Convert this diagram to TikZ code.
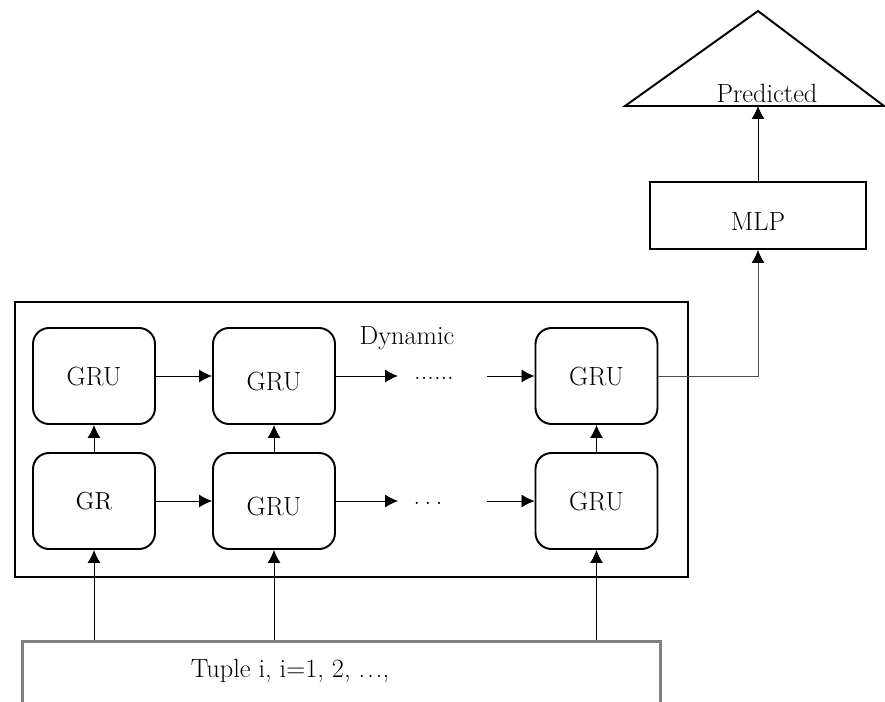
\documentclass[tikz,border=0pt]{standalone}
\usepackage{tikz}
\usetikzlibrary{arrows.meta,positioning}
\tikzstyle{gru}=[draw, rounded corners=0.32cm,% rounded cell
line width=1.1pt, minimum width=2.44cm, minimum height=1.92cm, inner sep=0pt, font=\fontsize{15}{17}\selectfont]
\tikzstyle{lowtext}=[text height=17pt, text depth=0pt]
\tikzstyle{plainbox}=[draw, line width=1.1pt, inner sep=0pt, font=\fontsize{15}{17}\selectfont]
\tikzstyle{txt}=[inner sep=0pt, font=\fontsize{15}{17}\selectfont]
\tikzstyle{dgraph}=[-{Latex[length=0.26cm,width=0.26cm,color=black]}, line width=0.5pt]
\newcommand{\spdots}[1]{.\kern#1.\kern#1.}

\begin{document}
\begin{tikzpicture}[x=0.02cm, y=-0.02cm]
\useasboundingbox (0,0) rectangle (885,702);
\clip (0,0) rectangle (885,702);

\node[plainbox, line width=1.3pt, minimum width=13.46cm, minimum height=5.5cm] (dyn) at (351.5,439.5) {};
\node[txt] (dynlbl) at (407,338) {Dynamic};

\node[gru] (g11) at (94,376) {GRU};
\node[gru, lowtext] (g12) at (274,376) {GRU};
\node[gru] (g13) at (596.5,376) {GRU};
\node[gru, font=\fontsize{14}{16}\selectfont] (g21) at (94,501) {GR};
\node[gru, lowtext] (g22) at (274,501) {GRU};
\node[gru] (g23) at (596.5,501) {GRU};

\coordinate (d1a) at (398,376);
\coordinate (d1b) at (487,376);
\node[txt] (dots1) at (434,378) {......};
\coordinate (d2a) at (398,501);
\coordinate (d2b) at (487,501);
\node[txt] (dots2) at (428,503) {\spdots{2.6pt}};

\draw [dgraph] (g11) -- (g12);
\draw [dgraph] (g12.east) -- (d1a);
\draw [dgraph] (d1b) -- (g13.west);
\draw [dgraph] (g21) -- (g22);
\draw [dgraph] (g22.east) -- (d2a);
\draw [dgraph] (d2b) -- (g23.west);
\draw [dgraph] (g21) -- (g11);
\draw [dgraph] (g22) -- (g12);
\draw [dgraph] (g23) -- (g13);

\node[draw=black!50, line width=1.7pt, minimum width=12.78cm, minimum height=1.4cm, inner sep=0pt] (tuple) at (341.5,676) {};
\node[txt] (tuplelbl) at (290,671) {Tuple i, i=1, 2, \spdots{1.2pt},};
\draw [dgraph] (tuple.north -| g21) -- (g21.south);
\draw [dgraph] (tuple.north -| g22) -- (g22.south);
\draw [dgraph] (tuple.north -| g23) -- (g23.south);

\node[plainbox, lowtext, minimum width=4.32cm, minimum height=1.34cm] (mlp) at (758,215.5) {MLP};
\draw [dgraph, draw=black!70] (g13.east) -| (mlp.south);

\coordinate (apex) at (758,11);
\coordinate (predl) at (625,106);
\coordinate (predr) at (884,106);
\coordinate (predbase) at (758,106);
\draw [line width=1.1pt, line join=miter] (predl) -- (apex) -- (predr) -- cycle;
\node[txt] (pred) at (767,93) {Predicted};
\draw [dgraph] (mlp.north) -- (predbase);
\end{tikzpicture}
\end{document}
